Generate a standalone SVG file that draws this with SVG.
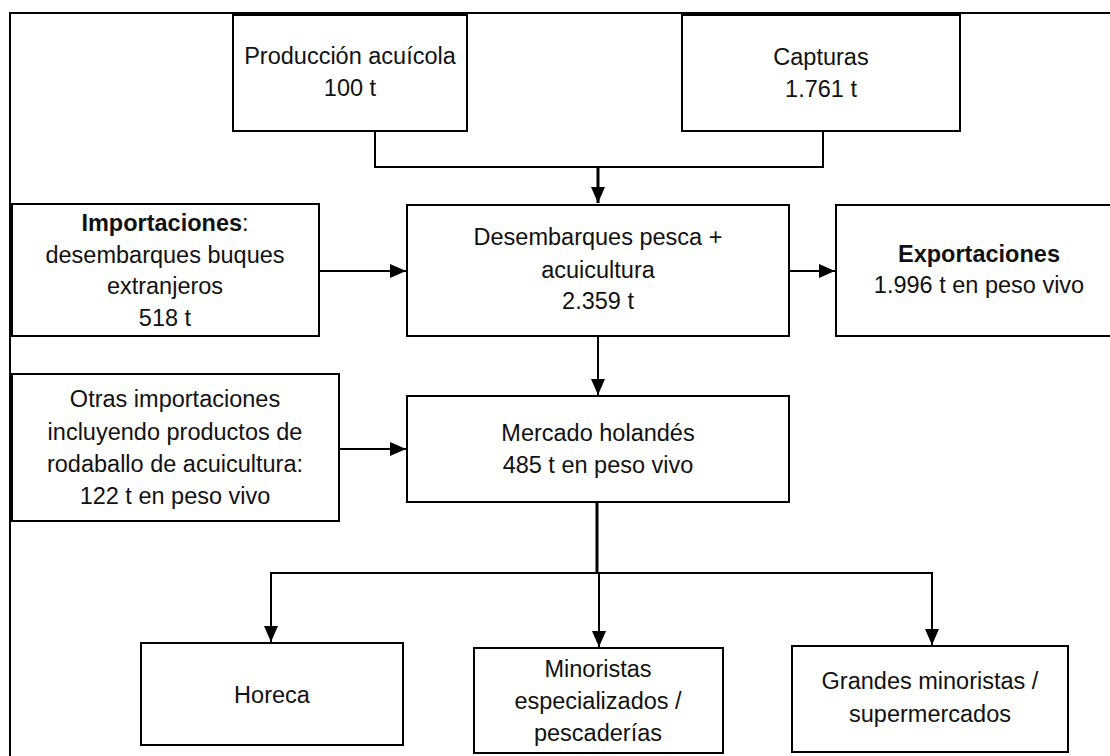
<svg xmlns="http://www.w3.org/2000/svg" width="1110" height="756" viewBox="0 0 1110 756">
<style>
.box{fill:#fff;stroke:#000;stroke-width:2}
.t{font-family:"Liberation Sans",Arial,sans-serif;font-size:23.5px;fill:#111;text-anchor:middle}
.b{font-weight:bold}
.c{fill:none;stroke:#000;stroke-width:2}
.ck{fill:none;stroke:#000;stroke-width:3}
</style>
<defs>
<marker id="ah" markerUnits="userSpaceOnUse" markerWidth="16" markerHeight="14" refX="16" refY="7" orient="auto">
<path d="M0,0 L16,7 L0,14 z" fill="#000"/>
</marker>
</defs>
<rect width="1110" height="756" fill="#fff"/>
<path d="M10,756 V13 H1110" fill="none" stroke="#000" stroke-width="2"/>
<g id="connectors">
<path class="c" d="M375,131 V167 H823 V131"/>
<path class="ck" d="M598,167 V203" marker-end="url(#ah)"/>
<path class="c" d="M319,271 H406" marker-end="url(#ah)"/>
<path class="c" d="M789,271 H835" marker-end="url(#ah)"/>
<path class="c" d="M598,336 V395" marker-end="url(#ah)"/>
<path class="c" d="M339,449 H406" marker-end="url(#ah)"/>
<path class="ck" d="M597,502 V573"/>
<path class="c" d="M598,573 H271 V642" marker-end="url(#ah)"/>
<path class="c" d="M598,573 H932 V645" marker-end="url(#ah)"/>
<path class="c" d="M599,573 V647" marker-end="url(#ah)"/>
</g>
<g id="produccion">
<rect class="box" x="233" y="15" width="234" height="116"/>
<text class="t" x="350" y="64">Producción acuícola</text>
<text class="t" x="350" y="96">100 t</text>
</g>
<g id="capturas">
<rect class="box" x="682" y="15" width="278" height="116"/>
<text class="t" x="821" y="65">Capturas</text>
<text class="t" x="821" y="97">1.761 t</text>
</g>
<g id="importaciones">
<rect class="box" x="12" y="204" width="307" height="132"/>
<text class="t" x="165" y="231"><tspan class="b">Importaciones</tspan>:</text>
<text class="t" x="165" y="263">desembarques buques</text>
<text class="t" x="165" y="294">extranjeros</text>
<text class="t" x="165" y="326">518 t</text>
</g>
<g id="desembarques">
<rect class="box" x="407" y="205" width="382" height="131"/>
<text class="t" x="598" y="245">Desembarques pesca +</text>
<text class="t" x="598" y="278">acuicultura</text>
<text class="t" x="598" y="309">2.359 t</text>
</g>
<g id="exportaciones">
<rect class="box" x="836" y="205" width="286" height="131"/>
<text class="t b" x="979" y="262">Exportaciones</text>
<text class="t" x="979" y="293">1.996 t en peso vivo</text>
</g>
<g id="otras">
<rect class="box" x="12" y="374" width="327" height="147"/>
<text class="t" x="175" y="407">Otras importaciones</text>
<text class="t" x="175" y="440">incluyendo productos de</text>
<text class="t" x="175" y="472">rodaballo de acuicultura:</text>
<text class="t" x="175" y="504">122 t en peso vivo</text>
</g>
<g id="mercado">
<rect class="box" x="407" y="396" width="382" height="106"/>
<text class="t" x="598" y="441">Mercado holandés</text>
<text class="t" x="598" y="473">485 t en peso vivo</text>
</g>
<g id="horeca">
<rect class="box" x="141" y="643" width="262" height="102"/>
<text class="t" x="272" y="703">Horeca</text>
</g>
<g id="minoristas">
<rect class="box" x="474" y="648" width="249" height="105"/>
<text class="t" x="598" y="677">Minoristas</text>
<text class="t" x="598" y="709">especializados /</text>
<text class="t" x="598" y="741">pescaderías</text>
</g>
<g id="grandes">
<rect class="box" x="792" y="646" width="276" height="106"/>
<text class="t" x="930" y="689">Grandes minoristas /</text>
<text class="t" x="930" y="722">supermercados</text>
</g>
</svg>
